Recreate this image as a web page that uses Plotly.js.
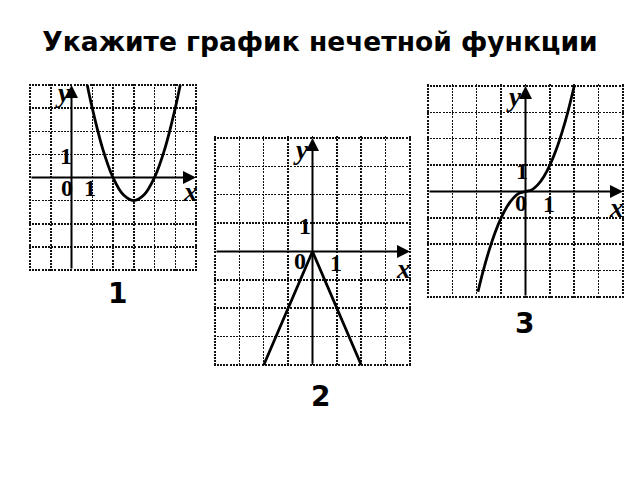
<!DOCTYPE html>
<html>
<head>
<meta charset="utf-8">
<script src="https://cdn.plot.ly/plotly-3.0.1.min.js"></script>
<style>html,body{margin:0;padding:0;background:#fff;}#chart{width:640px;height:480px;}</style>
</head>
<body>
<div id="chart"></div>
<script>
// ---- data ----
const titleText = "Укажите график нечетной функции";
const captions = ["1", "2", "3"];

// graph 1: parabola
const g1X = [0.76, 1, 1.5, 2, 2.5, 3, 3.5, 4, 4.5, 5, 5.24];
const g1Y = [4, 3, 1.25, 0, -0.75, -1, -0.75, 0, 1.25, 3, 4];
const g1XRange = [-2, 6];
const g1YRange = [-4, 4];

// graph 2: inverted V
const g2X = [-2, 0, 2];
const g2Y = [-4, 0, -4];
const g2XRange = [-4, 4];
const g2YRange = [-4, 4];

// graph 3: odd curve
const g3X = [-1.95, -1.75, -1.5, -1.25, -1, -0.75, -0.5, -0.25, 0, 0.25, 0.5, 0.75, 1, 1.25, 1.5, 1.75, 2];
const g3Y = [-3.8, -3.06, -2.25, -1.56, -1, -0.56, -0.25, -0.06, 0, 0.06, 0.25, 0.56, 1, 1.56, 2.25, 3.06, 4];
const g3XRange = [-4, 4];
const g3YRange = [-4, 4];

const tickLabels = {zero: "0", one: "1", x: "x", y: "y"};

// ---- layout (pixel boxes of the grids) ----
const W = 640, H = 480, PAD = 0.06;
const boxes = [
  {l: 30, r: 196, t: 85, b: 270},
  {l: 215, r: 410, t: 138, b: 365},
  {l: 428, r: 623, t: 86, b: 297}
];
const xr = [g1XRange, g2XRange, g3XRange];
const yr = [g1YRange, g2YRange, g3YRange];
const xs = [g1X, g2X, g3X];
const ys = [g1Y, g2Y, g3Y];

function padRange(r) { return [r[0] - PAD, r[1] + PAD]; }
function domX(b, r) {
  const u = (b.r - b.l) / (r[1] - r[0]);
  return [(b.l - PAD * u) / W, (b.r + PAD * u) / W];
}
function domY(b, r) {
  const u = (b.b - b.t) / (r[1] - r[0]);
  return [1 - (b.b + PAD * u) / H, 1 - (b.t - PAD * u) / H];
}

const layout = {
  width: W, height: H,
  margin: {l: 0, r: 0, t: 0, b: 0},
  paper_bgcolor: "#fff", plot_bgcolor: "#fff",
  showlegend: false,
  title: {
    text: "<b>" + titleText + "</b>",
    x: 0.5, xanchor: "center", y: 1 - 42 / H, yanchor: "middle",
    font: {family: "DejaVu Sans", size: 26.5, color: "#000"}
  },
  annotations: [],
  shapes: []
};

const traces = [];
const labelFont = {family: "Liberation Serif, DejaVu Serif", size: 24, color: "#000"};
const axFont = {family: "Liberation Serif, DejaVu Serif", size: 27, color: "#000"};

// label offsets in px per panel: [zero, x-one, y-one, x, y]
const offs = [
  {z: [-5, -10], x1: [-2, -10], y1: [-6, -2], xl: [-6, -14], yl: [-9, -8]},
  {z: [-12, -10], x1: [-1, -12], y1: [-7, -3], xl: [-6, -18], yl: [-11, -12]},
  {z: [-4, -12], x1: [-1, -13], y1: [-3, -6], xl: [-6, -17], yl: [-11, -11]}
];
const capPos = [[117, 293], [320, 396], [524, 323]];

for (let i = 0; i < 3; i++) {
  const n = i === 0 ? "" : String(i + 1);
  const xa = "x" + n, ya = "y" + n;
  const b = boxes[i];
  const common = {
    dtick: 1, tick0: 0, showgrid: true, gridcolor: "#111", gridwidth: 1.5,
    griddash: "2px,1.2px", zeroline: false, showticklabels: false, ticks: "",
    showline: false, fixedrange: true
  };
  layout["xaxis" + n] = Object.assign({}, common, {
    range: padRange(xr[i]), domain: domX(b, xr[i]), anchor: ya
  });
  layout["yaxis" + n] = Object.assign({}, common, {
    range: padRange(yr[i]), domain: domY(b, yr[i]), anchor: xa
  });

  traces.push({
    x: xs[i], y: ys[i], xaxis: xa, yaxis: ya, type: "scatter", mode: "lines",
    line: {color: "#000", width: 2.8, shape: i === 1 ? "linear" : "spline", smoothing: i === 2 ? 0.6 : 1},
    hoverinfo: "skip"
  });

  // axes with arrows
  layout.annotations.push({
    x: xr[i][1], y: 0, ax: xr[i][0], ay: 0, xref: xa, yref: ya, axref: xa, ayref: ya,
    text: "", showarrow: true, arrowhead: 2, arrowsize: 1.3, arrowwidth: 2,
    arrowcolor: "#000", standoff: 0, startstandoff: 0
  });
  layout.annotations.push({
    x: 0, y: yr[i][1], ax: 0, ay: yr[i][0], xref: xa, yref: ya, axref: xa, ayref: ya,
    text: "", showarrow: true, arrowhead: 2, arrowsize: 1.3, arrowwidth: 2,
    arrowcolor: "#000", standoff: 0, startstandoff: 0
  });

  const o = offs[i];
  const lab = (text, x, y, sh, font) => layout.annotations.push({
    x: x, y: y, xref: xa, yref: ya, text: text, showarrow: false,
    xanchor: "center", yanchor: "middle", xshift: sh[0], yshift: sh[1], font: font
  });
  lab("<b>" + tickLabels.zero + "</b>", 0, 0, o.z, labelFont);
  lab("<b>" + tickLabels.one + "</b>", 1, 0, o.x1, labelFont);
  lab("<b>" + tickLabels.one + "</b>", 0, 1, o.y1, labelFont);
  lab("<b><i>" + tickLabels.x + "</i></b>", xr[i][1], 0, o.xl, axFont);
  lab("<b><i>" + tickLabels.y + "</i></b>", 0, yr[i][1], o.yl, axFont);

  layout.annotations.push({
    x: capPos[i][0] / W, y: 1 - capPos[i][1] / H, xref: "paper", yref: "paper",
    text: "<b>" + captions[i] + "</b>", showarrow: false,
    xanchor: "center", yanchor: "middle",
    font: {family: "DejaVu Sans", size: 28, color: "#000"}
  });
}

Plotly.newPlot("chart", traces, layout, {displayModeBar: false, staticPlot: true});
</script>
</body>
</html>
